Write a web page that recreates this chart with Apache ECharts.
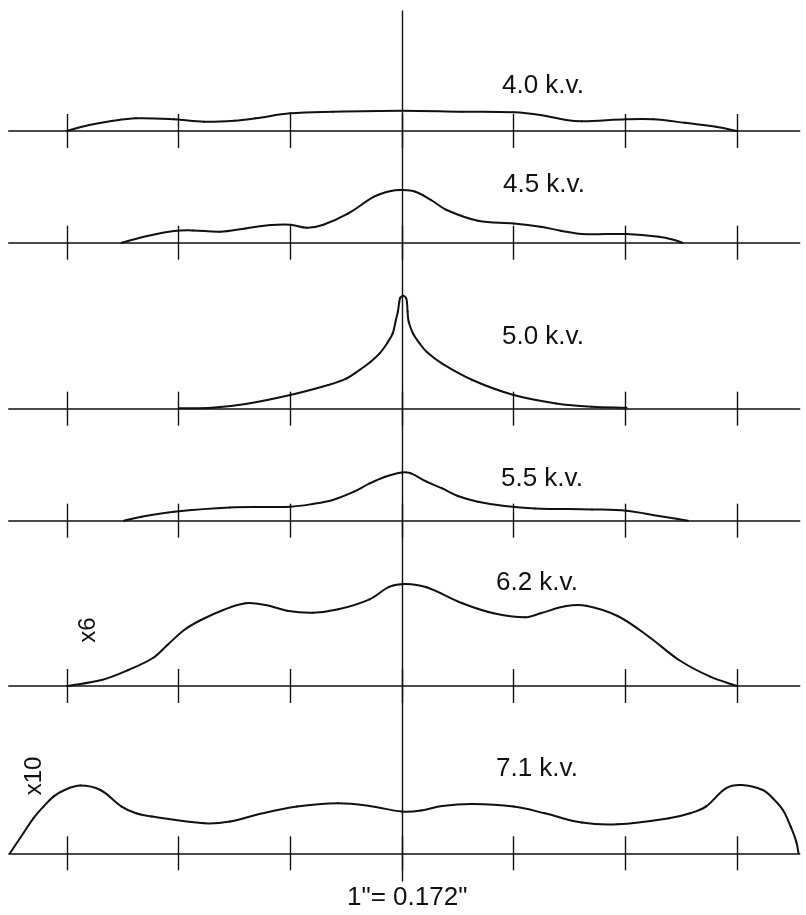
<!DOCTYPE html>
<html><head><meta charset="utf-8">
<script src="https://cdn.jsdelivr.net/npm/echarts@6/dist/echarts.min.js"></script>
<style>html,body{margin:0;padding:0;background:#fff}#c{width:806px;height:915px}</style>
</head><body><div id="c"></div><script>
// ---------- DATA ----------
const tickPositions = [-3, -2, -1, 0, 1, 2, 3];
const panelLabels = ['4.0 k.v.', '4.5 k.v.', '5.0 k.v.', '5.5 k.v.', '6.2 k.v.', '7.1 k.v.'];
const gainNotes = ['x6', 'x10'];
const scaleNote = '1"= 0.172"';

const kv40 = [[-3,0],[-2.8,6],[-2.6,10],[-2.38,12.7],[-2.04,11.7],[-1.77,9.3],[-1.5,10.3],[-1.31,12.7],[-1.0,17.7],[-0.62,19.3],[0,20.3],[0.54,19.3],[1.0,18.7],[1.24,16],[1.47,11],[1.61,9.7],[2.01,11.7],[2.25,11.7],[2.53,8.3],[2.81,4.3],[3.0,0]];
const kv45 = [[-2.51,0],[-2.28,6.7],[-2.04,11.7],[-1.87,12.3],[-1.63,11],[-1.40,14.3],[-1.17,17.7],[-1.0,18],[-0.85,15],[-0.71,17.7],[-0.48,29.3],[-0.25,46],[-0.1,51.7],[0,52.7],[0.12,51],[0.26,42.7],[0.40,32.7],[0.68,22],[1.0,19.3],[1.24,16],[1.42,12],[1.61,8.7],[2.01,8.7],[2.30,6],[2.44,2.7],[2.51,0]];
const kv50 = [[-2.0,0.5],[-1.70,1],[-1.40,4.7],[-1.0,13.7],[-0.66,23.7],[-0.5,30],[-0.38,38.7],[-0.28,47],[-0.2,55.3],[-0.13,66],[-0.083,75.3],[-0.054,89],[-0.037,97],[-0.025,106],[-0.015,111],[0.01,113],[0.035,111],[0.045,106],[0.05,97],[0.06,87],[0.1,75],[0.16,65],[0.22,57],[0.36,45],[0.63,28.7],[1.0,13.7],[1.38,5.3],[1.70,2],[2.01,1]];
const kv55 = [[-2.49,0],[-2.33,4],[-2.04,9],[-1.54,13.3],[-1.0,14],[-0.80,16.7],[-0.62,20.7],[-0.43,29],[-0.29,37.3],[-0.15,44],[0,48.3],[0.08,47.3],[0.22,39],[0.36,32.3],[0.50,24.7],[0.68,19],[0.92,14.7],[1.19,12.3],[1.70,11.3],[2.01,10],[2.30,4.7],[2.56,0]];
const kv62 = [[-3,0],[-2.69,6],[-2.45,16],[-2.23,28],[-2.1,41],[-1.95,56],[-1.80,66],[-1.6,76],[-1.40,82.7],[-1.22,81],[-1.03,75.3],[-0.80,73.3],[-0.57,76.7],[-0.29,86.7],[-0.11,99.3],[0.03,102],[0.22,98.7],[0.54,82.7],[0.82,72.7],[1.10,68.7],[1.24,72.7],[1.47,80],[1.65,80.3],[1.93,70],[2.21,49.3],[2.48,26],[2.76,9.3],[3.0,0]];
const kv71 = [[-3.51,0],[-3.39,20],[-3.30,35],[-3.21,46.7],[-3.12,56.7],[-3.02,63.3],[-2.88,67.7],[-2.70,63.3],[-2.51,46.7],[-2.38,40],[-2.24,36.7],[-1.77,30],[-1.54,31.7],[-1.31,38.3],[-0.94,46.7],[-0.57,50],[-0.29,47.3],[0,41.7],[0.17,42.7],[0.36,47.3],[0.63,49.3],[1.0,46.7],[1.28,40],[1.61,30.7],[1.93,29],[2.39,35],[2.58,40],[2.72,46.7],[2.90,65],[3.04,68.3],[3.23,63.3],[3.32,55],[3.41,43.3],[3.48,26.7],[3.53,11.7],[3.55,0]];
const curves = [kv40, kv45, kv50, kv55, kv62, kv71];

// ---------- LAYOUT ----------
const XMIN = -3.52, XMAX = 3.56, UNIT = 111.7, LEFT = 8.8;
const WIDTH = (XMAX - XMIN) * UNIT;
const CX = LEFT + (-XMIN) * UNIT;
const baselines = [131, 242.7, 408.7, 520.7, 686, 853.3];
const PANEL_H = 125;
const INK = '#111';
const SMOOTH = 0.36;
const labelPos = [[502, 86], [503, 185], [502, 337], [501, 479], [496, 583], [496, 769]];
const notePos = [[88, 630], [34, 776]];

// smooth curve: each data item draws the cubic segment to the next item,
// control points from neighbouring items (positions via api.coord).
function makeRender(points) {
  return function (params, api) {
    const k = params.dataIndex;
    if (k >= points.length - 1) return null;
    const P = points.map(p => api.coord(p));
    const ctrl = (j) => {
      const p = P[j];
      const prev = P[Math.max(j - 1, 0)], next = P[Math.min(j + 1, P.length - 1)];
      const vx = next[0] - prev[0], vy = next[1] - prev[1];
      const lp = Math.hypot(p[0] - prev[0], p[1] - prev[1]);
      const ln = Math.hypot(next[0] - p[0], next[1] - p[1]);
      const tot = (lp + ln) || 1;
      return {
        back: [p[0] - vx * SMOOTH * lp / tot, p[1] - vy * SMOOTH * lp / tot],
        fwd: [p[0] + vx * SMOOTH * ln / tot, p[1] + vy * SMOOTH * ln / tot]
      };
    };
    const a = ctrl(k), b = ctrl(k + 1);
    return {
      type: 'bezierCurve',
      shape: {x1: P[k][0], y1: P[k][1], x2: P[k + 1][0], y2: P[k + 1][1],
        cpx1: a.fwd[0], cpy1: a.fwd[1], cpx2: b.back[0], cpy2: b.back[1]},
      style: {stroke: INK, lineWidth: 2, fill: null, lineCap: 'round'}
    };
  };
}

const grid = [], xAxis = [], yAxis = [], series = [];
baselines.forEach((b, i) => {
  grid.push({left: LEFT, width: WIDTH, top: b - PANEL_H, height: PANEL_H});
  const base = {gridIndex: i, type: 'value', min: XMIN, max: XMAX, position: 'bottom',
    axisLabel: {show: false}, splitLine: {show: false}};
  xAxis.push(Object.assign({}, base, {
    axisLine: {show: true, onZero: false, lineStyle: {color: INK, width: 1.6}},
    axisTick: {show: true, inside: true, length: 17, customValues: tickPositions, lineStyle: {color: INK, width: 1.4}}
  }));
  xAxis.push(Object.assign({}, base, {
    axisLine: {show: false, onZero: false},
    axisTick: {show: true, inside: false, length: 17, customValues: tickPositions, lineStyle: {color: INK, width: 1.4}}
  }));
  yAxis.push({gridIndex: i, type: 'value', min: 0, max: PANEL_H, show: false});
  series.push({type: 'custom', name: panelLabels[i], coordinateSystem: 'cartesian2d',
    xAxisIndex: 2 * i, yAxisIndex: i, data: curves[i], clip: false, silent: true,
    renderItem: makeRender(curves[i])});
});
// central vertical line
const gi = baselines.length;
grid.push({left: CX, width: 1, top: 11, height: 870});
xAxis.push({gridIndex: gi, type: 'value', min: 0, max: 1, show: false});
yAxis.push({gridIndex: gi, type: 'value', min: 0, max: 1, position: 'left',
  axisLine: {show: true, onZero: false, lineStyle: {color: INK, width: 1.4}},
  axisTick: {show: false}, axisLabel: {show: false}, splitLine: {show: false}});

const FONT = '"Liberation Sans", Arial, sans-serif';
const graphic = [];
panelLabels.forEach((t, i) => {
  graphic.push({type: 'text', x: labelPos[i][0], y: labelPos[i][1],
    style: {text: t, font: '26px ' + FONT, fill: INK, align: 'left', verticalAlign: 'middle'}});
});
gainNotes.forEach((t, i) => {
  graphic.push({type: 'text', x: notePos[i][0], y: notePos[i][1], rotation: Math.PI / 2,
    style: {text: t, font: '24px ' + FONT, fill: INK, align: 'center', verticalAlign: 'middle'}});
});
graphic.push({type: 'text', x: 347, y: 898,
  style: {text: scaleNote, font: '26px ' + FONT, fill: INK, align: 'left', verticalAlign: 'middle'}});

const chart = echarts.init(document.getElementById('c'), null, {renderer: 'canvas'});
chart.setOption({animation: false, backgroundColor: '#fff', grid, xAxis, yAxis, series, graphic});
</script></body></html>
